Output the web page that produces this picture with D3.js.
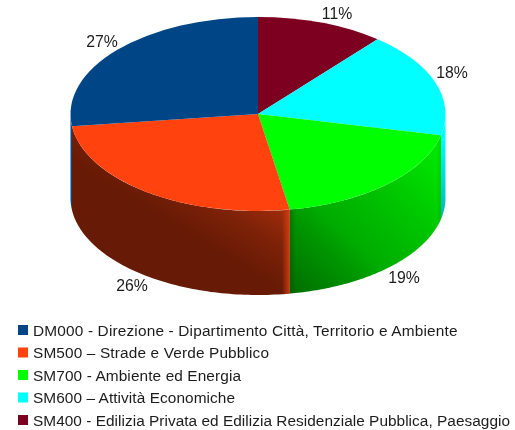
<!DOCTYPE html>
<html><head><meta charset="utf-8">
<script src="https://cdn.jsdelivr.net/npm/d3@7"></script>
<style>html,body{margin:0;background:#fff}svg{display:block;filter:blur(0.35px)}text{font-family:"Liberation Sans",Arial,sans-serif;fill:#1c1c1c}</style>
</head><body><svg id="c" width="515" height="430"></svg>
<script>
const sliceValues=[11,17.5,18.8,25.7,27];
const sliceLabels=["11%","18%","19%","26%","27%"];
const sliceColors=["#7e0021","#00ffff","#00ff00","#ff420e","#004586"];
const legendLabels=["DM000 - Direzione - Dipartimento Città, Territorio e Ambiente","SM500 – Strade e Verde Pubblico","SM700 - Ambiente ed Energia","SM600 – Attività Economiche","SM400 - Edilizia Privata ed Edilizia Residenziale Pubblica, Paesaggio"];
const legendColors=["#004586","#ff420e","#00ff00","#00ffff","#7e0021"];

const cx=258,cy=114,rx=187.5,ry=97,depth=84;
const svg=d3.select("#c");
const defs=svg.append("defs");
const arcs=d3.pie().sort(null).value(d=>d)(sliceValues);

function grad(id,x1,y1,x2,y2,stops){
  const g=defs.append("linearGradient").attr("id",id).attr("gradientUnits","userSpaceOnUse")
    .attr("x1",x1).attr("y1",y1).attr("x2",x2).attr("y2",y2);
  stops.forEach(s=>g.append("stop").attr("offset",s[0]).attr("stop-color",s[1]).attr("stop-opacity",s[2]===undefined?1:s[2]));
}
grad("w1",0,134,0,218,[[0,"#00ffff"],[0.5,"#00dcdc"],[1,"#00b4b4"]]);
grad("w2",290,293,442,134,[[0,"#006c00"],[0.27,"#009800"],[0.37,"#00ac00"],[0.63,"#00c400"],[1,"#00f000"]]);
grad("w3",150,210,187,150,[[0,"#671a05"],[0.55,"#7e2208"],[1,"#a02c0b"]]);
grad("e3",282,0,290,0,[[0,"#e0420f",0],[0.6,"#d8400f",0.55],[1,"#e0420f",0.85]]);
grad("e2",289,0,296,0,[[0,"#004a00",0.45],[1,"#004a00",0]]);
grad("e1",437,0,443,0,[[0,"#007000",0],[1,"#007000",0.3]]);
const wallFill={1:"url(#w1)",2:"url(#w2)",3:"url(#w3)",4:"#004586"};
const wallEdges={2:["url(#e2)","url(#e1)"],3:["url(#e3)"]};

const px=a=>cx+rx*Math.sin(a), py=a=>cy-ry*Math.cos(a);
const line=d3.line();
arcs.forEach((d,i)=>{
  const a0=Math.max(d.startAngle,Math.PI/2), a1=Math.min(d.endAngle,Math.PI*1.5);
  if(a1<=a0) return;
  const t=d3.scaleLinear().domain([0,80]).range([a0,a1]);
  const ts=d3.range(0,81).map(t);
  const pts=ts.map(a=>[px(a),py(a)]).concat(ts.slice().reverse().map(a=>[px(a),py(a)+depth]));
  const p=line(pts)+"Z";
  svg.append("path").attr("d",p).attr("fill",wallFill[i]);
  (wallEdges[i]||[]).forEach(f=>svg.append("path").attr("d",p).attr("fill",f));
});
const g=svg.append("g").attr("transform",`translate(${cx},${cy}) scale(1,${ry/rx})`);
const arc=d3.arc().innerRadius(0).outerRadius(rx);
g.selectAll("path").data(arcs).join("path").attr("d",arc).attr("fill",(d,i)=>sliceColors[i]);

const labelX=[337,452,404,132,102], labelY=[13,72,277,285,41];
svg.selectAll("text.v").data(sliceLabels).join("text").attr("class","v")
  .attr("x",(d,i)=>labelX[i]).attr("y",(d,i)=>labelY[i]+5.5).attr("text-anchor","middle").attr("font-size",15.8).text(d=>d);

const legendWidth=[424.5,236,208,202,477];
const rowY=d3.scaleLinear().domain([0,4]).range([330,420]);
const leg=svg.selectAll("g.l").data(legendLabels).join("g").attr("class","l")
  .attr("transform",(d,i)=>`translate(0,${rowY(i)})`);
leg.append("rect").attr("x",18).attr("y",-5).attr("width",10).attr("height",10).attr("fill",(d,i)=>legendColors[i]);
leg.append("text").attr("x",33).attr("y",5.5).attr("font-size",15.4).attr("textLength",(d,i)=>legendWidth[i]).attr("lengthAdjust","spacing").text(d=>d);
</script></body></html>
